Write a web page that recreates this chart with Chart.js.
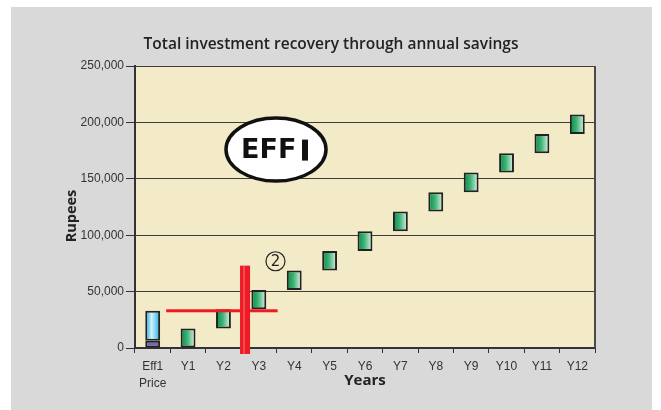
<!DOCTYPE html>
<html>
<head>
<meta charset="utf-8">
<script src="https://cdn.jsdelivr.net/npm/chart.js@4/dist/chart.umd.min.js"></script>
<style>
  html, body { margin: 0; padding: 0; background: #fff; }
</style>
</head>
<body>
<canvas id="recoveryChart" width="661" height="410"></canvas>
<script>
// Chart data
const chartTitle = "Total investment recovery through annual savings";
const yTitle = "Rupees";
const xTitle = "Years";
const yearLabels = [["Eff1", "Price"], "Y1", "Y2", "Y3", "Y4", "Y5", "Y6", "Y7", "Y8", "Y9", "Y10", "Y11", "Y12"];
const yTickValues = [0, 50000, 100000, 150000, 200000, 250000];

// Eff1 price bar (two parts)
const priceLower = [0, 6500];
const priceUpper = [6500, 33000];

// Cumulative savings per year (bottom and top of each box)
const savingsFrom = [null, 0, 17200, 34300, 51400, 68600, 86000, 103400, 120900, 138000, 155500, 172600, 189700];
const savingsTo = [null, 17200, 34300, 51400, 68600, 86000, 103400, 120900, 138000, 155500, 172600, 189700, 206900];

// Markers on the chart, in data units (category index, rupees)
const paybackLevel = 33000;
const paybackLineFrom = 0.38;
const paybackLineTo = 3.53;
const paybackYear = 2.61;
const paybackYearTop = 73000;
const paybackYearBottom = -5300;
const logoPosition = [3.485, 175900];
const noteLabel = "2";
const notePosition = [3.47, 76900];

const barPercentage = 0.42;

function range(from, to) {
  return from.map((v, i) => (v === null ? null : [v, to[i]]));
}

function barGradient(context, stops) {
  const chart = context.chart;
  const xScale = chart.scales.x;
  if (context.type !== "data" || !xScale) return stops[1][1];
  const center = xScale.getPixelForValue(context.dataIndex);
  const half = (xScale.getPixelForValue(1) - xScale.getPixelForValue(0)) * barPercentage / 2;
  if (!isFinite(center) || !isFinite(half) || half <= 0) return stops[1][1];
  const g = chart.ctx.createLinearGradient(center - half, 0, center + half, 0);
  stops.forEach((s) => g.addColorStop(s[0], s[1]));
  return g;
}

const greenStops = [[0, "#008c46"], [0.45, "#3fb276"], [1, "#e6f6ec"]];
const blueStops = [[0, "#0ea4e2"], [0.42, "#cff2fd"], [1, "#1eaee6"]];

const decorations = {
  id: "decorations",
  beforeDraw(chart) {
    const { ctx, chartArea: a } = chart;
    ctx.save();
    ctx.fillStyle = "#ffffff";
    ctx.fillRect(0, 0, chart.width, chart.height);
    ctx.fillStyle = "#d9d9d9";
    ctx.fillRect(11, 7, 641, 403);
    ctx.fillStyle = "#f3eac8";
    ctx.fillRect(a.left, a.top, a.right - a.left, a.bottom - a.top);

    ctx.fillStyle = "#222";
    ctx.textAlign = "center";
    ctx.textBaseline = "middle";
    ctx.font = '600 15.5px "Open Sans"';
    ctx.fillText(chartTitle, 331, 45);

    ctx.translate(72, 216);
    ctx.rotate(-Math.PI / 2);
    ctx.font = 'bold 14.5px "Open Sans"';
    ctx.fillText(yTitle, 0, 0);
    ctx.restore();
  },
  afterDatasetsDraw(chart) {
    const { ctx, chartArea: a } = chart;
    const x = chart.scales.x;
    const y = chart.scales.y;
    ctx.save();

    // right edge of plot
    ctx.strokeStyle = "#4a4a4a";
    ctx.lineWidth = 2;
    ctx.beginPath();
    ctx.moveTo(a.right, a.top);
    ctx.lineTo(a.right, a.bottom);
    ctx.stroke();

    // payback lines
    ctx.fillStyle = "#ed1c24";
    const hy = y.getPixelForValue(paybackLevel);
    const hx1 = x.getPixelForValue(paybackLineFrom);
    const hx2 = x.getPixelForValue(paybackLineTo);
    ctx.fillRect(hx1, hy - 1.5, hx2 - hx1, 3);
    const vx = x.getPixelForValue(paybackYear);
    const vy1 = y.getPixelForValue(paybackYearTop);
    const vy2 = y.getPixelForValue(paybackYearBottom);
    ctx.fillRect(vx - 5, vy1, 10, vy2 - vy1);
    ctx.fillStyle = "#f47c80";
    ctx.fillRect(vx - 1.5, vy1, 1, vy2 - vy1);

    // EFF1 logo
    const lx = x.getPixelForValue(logoPosition[0]);
    const ly = y.getPixelForValue(logoPosition[1]);
    ctx.beginPath();
    ctx.ellipse(lx, ly, 50, 31.5, 0, 0, Math.PI * 2);
    ctx.fillStyle = "#ffffff";
    ctx.fill();
    ctx.lineWidth = 3.5;
    ctx.strokeStyle = "#111";
    ctx.stroke();
    ctx.fillStyle = "#111";
    ctx.textBaseline = "middle";
    ctx.textAlign = "left";
    ctx.font = 'bold 27px "DejaVu Sans"';
    ctx.fillText("EFF", lx - 35, ly + 1);
    ctx.fillRect(lx + 26, ly - 10, 6, 21);

    // circled note
    const nx = x.getPixelForValue(notePosition[0]);
    const ny = y.getPixelForValue(notePosition[1]);
    ctx.beginPath();
    ctx.arc(nx, ny, 9.5, 0, Math.PI * 2);
    ctx.lineWidth = 1.2;
    ctx.strokeStyle = "#222";
    ctx.stroke();
    ctx.fillStyle = "#222";
    ctx.textAlign = "center";
    ctx.font = '15px "DejaVu Sans"';
    ctx.fillText(noteLabel, nx, ny + 1);

    ctx.restore();
  },
};

new Chart(document.getElementById("recoveryChart"), {
  type: "bar",
  data: {
    labels: yearLabels,
    datasets: [
      {
        data: [priceLower],
        backgroundColor: "#7468b3",
      },
      {
        data: [priceUpper],
        backgroundColor: (c) => barGradient(c, blueStops),
      },
      {
        data: range(savingsFrom, savingsTo),
        backgroundColor: (c) => barGradient(c, greenStops),
      },
    ],
  },
  plugins: [decorations],
  options: {
    responsive: false,
    animation: false,
    layout: { padding: { left: 0, right: 66, top: 66, bottom: 0 } },
    datasets: {
      bar: {
        grouped: false,
        categoryPercentage: 1,
        barPercentage: barPercentage,
        borderColor: "#222",
        borderWidth: 2,
        borderSkipped: false,
      },
    },
    plugins: {
      legend: { display: false },
      tooltip: { enabled: false },
    },
    scales: {
      x: {
        ticks: {
          color: "#333",
          padding: 6,
          maxRotation: 0,
          autoSkip: false,
          font: { family: "Liberation Sans", size: 12, lineHeight: 1.35 },
        },
        grid: { drawOnChartArea: false, tickLength: 5, tickColor: "#333", lineWidth: 1 },
        border: { color: "#333", width: 2 },
        title: {
          display: true,
          text: xTitle,
          color: "#222",
          font: { family: "Open Sans", size: 15, weight: "bold" },
          padding: { top: 0, bottom: 20 },
        },
        afterFit: (s) => { s.height = 62; },
      },
      y: {
        min: 0,
        max: 250000,
        afterBuildTicks: (s) => { s.ticks = yTickValues.map((v) => ({ value: v })); },
        ticks: {
          color: "#333",
          padding: 2,
          font: { family: "Liberation Sans", size: 12 },
          callback: (v) => String(v).replace(/\B(?=(\d{3})+(?!\d))/g, ","),
        },
        grid: { color: "#3c3c3c", lineWidth: 1, tickLength: 9, tickColor: "#333" },
        border: { color: "#333", width: 2 },
        afterFit: (s) => { s.width = 135; },
      },
    },
  },
});
</script>
</body>
</html>
